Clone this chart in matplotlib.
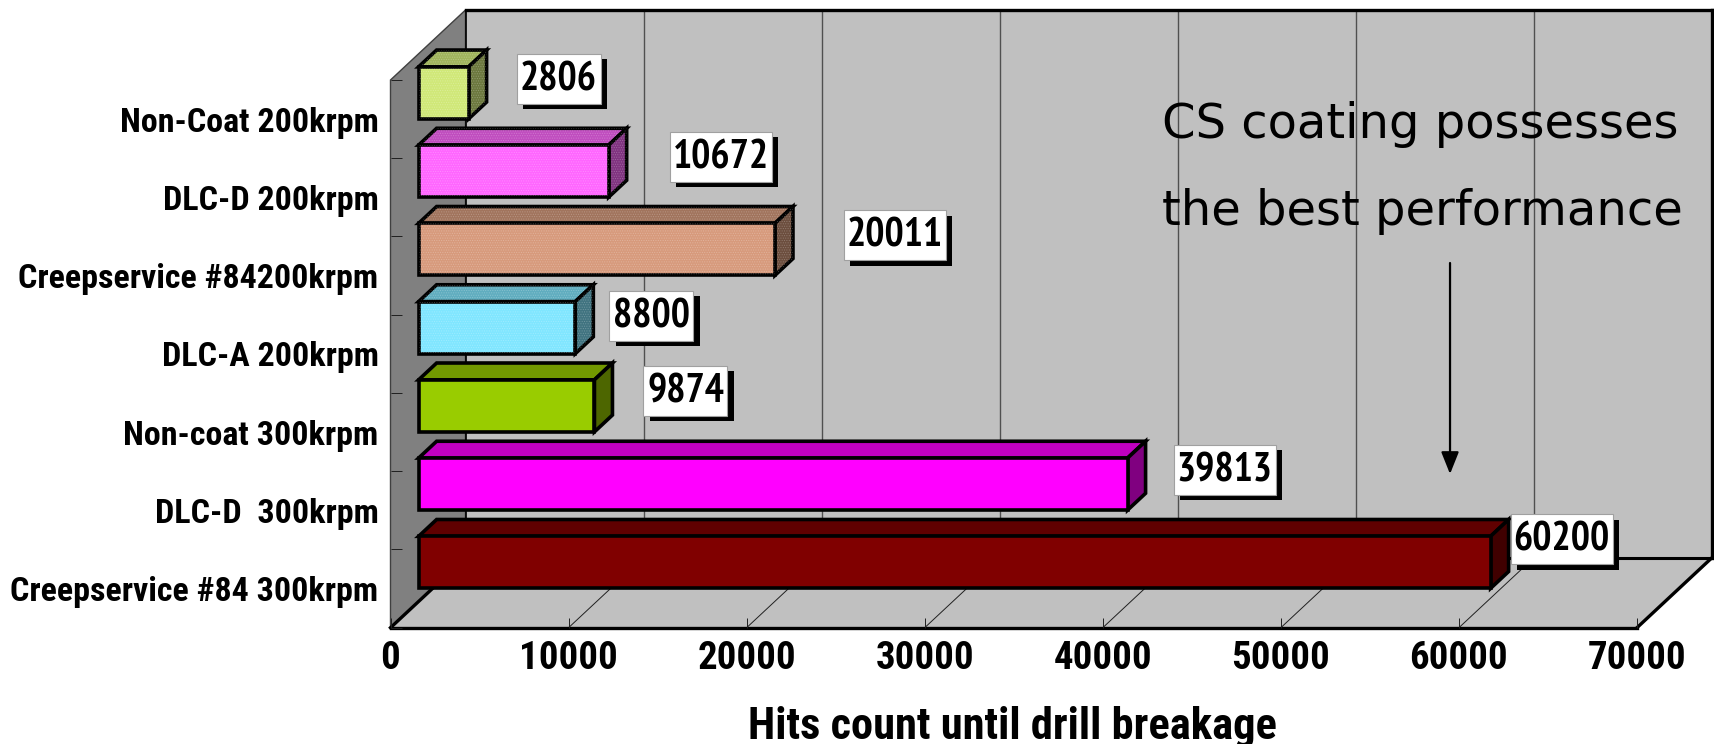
import matplotlib
matplotlib.use('Agg')
import matplotlib.pyplot as plt
import matplotlib.patheffects as pe
from matplotlib.patches import Polygon, Rectangle
from matplotlib.transforms import IdentityTransform

# bottom to top, same order as the chart axis
categories = ['Creepservice #84 300krpm', 'DLC-D  300krpm', 'Non-coat 300krpm', 'DLC-A 200krpm',
              'Creepservice #84200krpm', 'DLC-D 200krpm', 'Non-Coat 200krpm']
hits = [60200, 39813, 9874, 8800, 20011, 10672, 2806]
x_ticks = [0, 10000, 20000, 30000, 40000, 50000, 60000, 70000]
x_label = 'Hits count until drill breakage'
note_lines = ['CS coating possesses', 'the best performance']

face_colors = ['#800000', '#FF00FF', '#99CC00', '#80E6FF', '#D79A7C', '#FF66FF', '#D0E878']
top_colors = ['#600000', '#C000C0', '#739900', '#60ADBF', '#A1745D', '#C04DBF', '#A0B45C']
side_colors = ['#400000', '#800080', '#4D6600', '#407380', '#6C4E3E', '#803380', '#6C783E']
dithered = [False, False, False, True, True, True, True]

# label placement in pixels, from the front right corner of each bar
label_dx = [71, 97, 91, 76, 120, 112, 90]
label_dy = [23, 14, 15, 12, 14, 14, 14]

FONT = ['Roboto Condensed', 'Liberation Sans']
LABEL_FONT = ['PT Sans Narrow', 'Roboto Condensed', 'Liberation Sans']
W, H = 1714, 744
WALL_DX, WALL_DY = 4212, 0.895   # depth of the box in data units
BAR_FRONT, BAR_BACK = 0.375, 0.615
BAR_H = 0.665

plt.rcParams['hatch.linewidth'] = 0.5


def proj(x, y, d):
    return (x + d * WALL_DX, y + d * WALL_DY)


fig = plt.figure(figsize=(W / 100, H / 100), dpi=100)
ax = fig.add_axes([390.5 / W, (H - 627.7) / H, (1637 - 390.5) / W, (627.7 - 80) / H])
ax.set_xlim(0, 70000)
ax.set_ylim(0, 7)
ax.patch.set_visible(False)
for s in ax.spines.values():
    s.set_visible(False)

# walls and floor
left_wall = [proj(0, 0, 0), proj(0, 7, 0), proj(0, 7, 1), proj(0, 0, 1)]
back_wall = [proj(0, 0, 1), proj(0, 7, 1), proj(70000, 7, 1), proj(70000, 0, 1)]
floor = [proj(0, 0, 0), proj(70000, 0, 0), proj(70000, 0, 1), proj(0, 0, 1)]
ax.add_patch(Polygon(left_wall, fc='#808080', ec='#404040', lw=1, clip_on=False, zorder=0.5))
ax.add_patch(Polygon(back_wall, fc='#C0C0C0', ec='none', clip_on=False, zorder=0.4))
ax.add_patch(Polygon(floor, fc='#C0C0C0', ec='none', clip_on=False, zorder=0.6))

for t in x_ticks[1:-1]:
    xs, ys = zip(proj(t, 0, 0), proj(t, 0, 1), proj(t, 7, 1))
    ax.plot(xs[:2], ys[:2], color='#202020', lw=0.7, clip_on=False, zorder=0.7)
    ax.plot(xs[1:], ys[1:], color='#505050', lw=1.0, clip_on=False, zorder=0.45)

for a, b, lw in [(proj(0, 0, 0), proj(70000, 0, 0), 2.4),
                 (proj(0, 0, 0), proj(0, 0, 1), 2.4),
                 (proj(70000, 0, 0), proj(70000, 0, 1), 2.4),
                 (proj(0, 0, 1), proj(70000, 0, 1), 2.2),
                 (proj(0, 7, 1), proj(70000, 7, 1), 2.4),
                 (proj(70000, 0, 1), proj(70000, 7, 1), 2.4),
                 (proj(0, 0, 1), proj(0, 7, 1), 1.2)]:
    ax.plot([a[0], b[0]], [a[1], b[1]], color='black', lw=lw, clip_on=False, zorder=0.8,
            solid_capstyle='projecting')

# bars
for i in range(len(hits) - 1, -1, -1):
    v = hits[i]
    lo = i + 0.5 - BAR_H / 2
    hi = i + 0.5 + BAR_H / 2
    z = 3 + (6 - i) * 0.1
    style = dict(ec='black', lw=2.6, joinstyle='miter', clip_on=False, zorder=z)
    front = [proj(0, lo, BAR_FRONT), proj(v, lo, BAR_FRONT), proj(v, hi, BAR_FRONT), proj(0, hi, BAR_FRONT)]
    top = [proj(0, hi, BAR_FRONT), proj(v, hi, BAR_FRONT), proj(v, hi, BAR_BACK), proj(0, hi, BAR_BACK)]
    side = [proj(v, lo, BAR_FRONT), proj(v, lo, BAR_BACK), proj(v, hi, BAR_BACK), proj(v, hi, BAR_FRONT)]
    for pts, col in [(top, top_colors[i]), (side, side_colors[i]), (front, face_colors[i])]:
        ax.add_patch(Polygon(pts, fc=col, **style))
        if dithered[i]:
            ax.add_patch(Polygon(pts, fc='none', ec=(1, 1, 1, 0.22), lw=0, hatch='.......',
                                 clip_on=False, zorder=z))

# data labels, white box with a hard shadow
for i, v in enumerate(hits):
    px, py = ax.transData.transform(proj(v, i + 0.5, BAR_FRONT))
    cx, cy = px + label_dx[i], py + label_dy[i]
    txt = str(v)
    bw = 12 + 18 * len(txt)
    box = Rectangle((cx - bw / 2, cy - 25), bw, 50, fc='white', ec='#A0A0A0', lw=0.8,
                    transform=IdentityTransform(), clip_on=False, zorder=5)
    box.set_path_effects([pe.SimplePatchShadow(offset=(4.5, -3.8), shadow_rgbFace='black', alpha=1),
                          pe.Normal()])
    ax.add_patch(box)
    ax.text(cx, cy - 1, txt, family=LABEL_FONT, weight='bold', fontsize=29, ha='center', va='center',
            transform=IdentityTransform(), clip_on=False, zorder=6)

# ticks
ax.set_xticks(x_ticks)
ax.set_xticklabels([str(t) for t in x_ticks], family=FONT, weight='bold', fontsize=28)
ax.tick_params(axis='x', direction='in', length=7, width=0.7, pad=9, color='#202020')
ax.set_yticks([i + 0.5 for i in range(len(categories))])
ax.set_yticklabels(categories, family=FONT, weight='bold', fontsize=24.5)
ax.set_yticks(range(8), minor=True)
ax.tick_params(axis='y', which='major', length=0, pad=8.6)
ax.tick_params(axis='y', which='minor', direction='in', length=8, width=0.7, color='#202020')

fig.text(1012 / W, (H - 739) / H, x_label, family=FONT, weight='bold', fontsize=32, ha='center', va='baseline')

# note and arrow
fig.text(1162 / W, (H - 138) / H, note_lines[0], family='DejaVu Sans', fontsize=34.6, va='baseline', zorder=7)
fig.text(1162 / W, (H - 225) / H, note_lines[1], family='DejaVu Sans', fontsize=34.6, va='baseline', zorder=7)
arrow_x = 59500
ax.annotate('', xy=(arrow_x, ax.transData.inverted().transform((1452, H - 474))[1]),
            xytext=(arrow_x, ax.transData.inverted().transform((1452, H - 263))[1]),
            arrowprops=dict(arrowstyle='-|>,head_width=0.3,head_length=0.75', color='black', lw=1.6,
                            shrinkA=0, shrinkB=0, mutation_scale=18), annotation_clip=False, zorder=7)

fig.savefig('out.png', dpi=100)
